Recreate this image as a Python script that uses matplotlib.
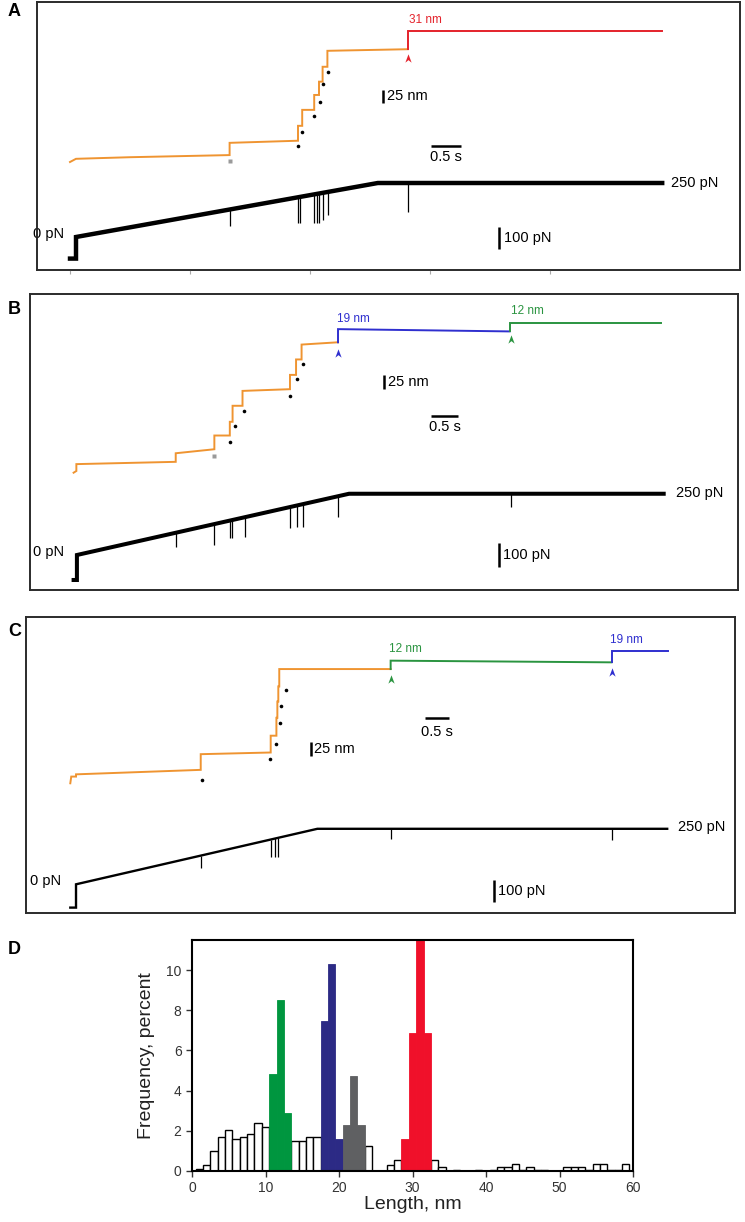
import numpy as np
import matplotlib
matplotlib.use("Agg")
import matplotlib.pyplot as plt
from matplotlib.path import Path

plt.rcParams['font.family'] = ['Liberation Sans', 'DejaVu Sans']

W, H = 745, 1222
ORANGE = '#ef9431'
RED = '#e4222b'
BLUE = '#2f2fcf'
GREEN = '#2a9440'

# ---------------- panel A (time s, extension nm, force pN) ----------------
a_orange_t = [0.00, 0.10, 1.00, 2.66, 2.66, 3.80, 3.80, 3.87, 3.87, 4.07, 4.07, 4.15, 4.15, 4.21, 4.21, 4.29, 4.29, 5.63]
a_orange_nm = [0, 6, 9, 13, 36, 40, 68, 68, 98, 98, 126, 126, 151, 151, 179, 179, 209, 212]
a_red_t = [5.63, 5.63, 9.87]
a_red_nm = [212, 247, 247]
a_dots_t = [3.80, 3.87, 4.07, 4.16, 4.21, 4.30]
a_dots_nm = [30, 56, 86, 113, 146, 170]
a_gray_dot = (2.66, 1)
a_force_t = [0, 0.1, 0.1, 5.13, 9.87]
a_force_pn = [-100, -100, 0, 250, 250]
a_spike_t = [2.66, 3.80, 3.84, 4.06, 4.11, 4.15, 4.22, 4.30, 5.63]
a_spike_min = [52, 66, 66, 66, 66, 66, 80, 104, 118]

# ---------------- panel B ----------------
b_orange_t = [0.00, 0.05, 0.05, 1.85, 1.85, 2.55, 2.55, 2.83, 2.83, 2.88, 2.88, 3.06, 3.06, 3.92, 3.92, 4.03, 4.03, 4.13, 4.13, 4.79]
b_orange_nm = [0, 3, 15, 19, 34, 41, 65, 65, 89, 89, 117, 117, 143, 146, 171, 171, 198, 198, 224, 228]
b_blue_t = [4.79, 4.79, 7.90]
b_blue_nm = [228, 251, 247]
b_green_t = [7.90, 7.90, 10.65]
b_green_nm = [247, 261, 261]
b_dots_t = [2.83, 2.92, 3.09, 3.92, 4.05, 4.15]
b_dots_nm = [54, 82, 108, 134, 163, 190]
b_gray_dot = (2.54, 30)
b_force_t = [0, 0.06, 0.06, 4.99, 10.69]
b_force_pn = [-102, -102, 0, 250, 250]
b_spike_t = [1.85, 2.55, 2.83, 2.87, 3.10, 3.92, 4.05, 4.15, 4.79, 7.92]
b_spike_min = [34, 41, 68, 68, 75, 109, 115, 115, 156, 197]

# ---------------- panel C ----------------
c_orange_t = [0.00, 0.02, 0.12, 0.12, 2.74, 2.74, 4.21, 4.21, 4.33, 4.33, 4.35, 4.35, 4.37, 4.37, 4.39, 4.39, 6.73]
c_orange_nm = [0, 12, 12, 16, 24, 52, 55, 85, 85, 117, 117, 146, 146, 173, 173, 204, 204]
c_green_t = [6.73, 6.73, 11.37]
c_green_nm = [204, 219, 216]
c_blue_t = [11.37, 11.37, 12.56]
c_blue_nm = [216, 237, 237]
c_dots_t = [2.76, 4.20, 4.32, 4.40, 4.43, 4.53]
c_dots_nm = [6, 43, 71, 107, 138, 167]
c_force_t = [0, 0.12, 0.12, 5.19, 12.54]
c_force_pn = [-105, -105, 0, 250, 250]
c_spike_t = [2.74, 4.21, 4.31, 4.36, 6.73, 11.37]
c_spike_min = [72, 122, 122, 122, 204, 200]

# ---------------- panel D histogram (1 nm bins, centres 0..59) ----------------
length_nm = np.arange(60)
freq_pct = [0, 0.10, 0.32, 1.02, 1.70, 2.05, 1.57, 1.70, 1.82, 2.40,
            2.17, 4.83, 8.50, 2.88, 1.47, 1.47, 1.70, 1.70, 7.45, 10.33,
            1.60, 2.30, 4.72, 2.30, 1.25, 0, 0, 0.32, 0.57, 1.60,
            6.88, 12.50, 6.88, 0.57, 0.18, 0, 0.07, 0, 0, 0.07,
            0, 0.07, 0.18, 0.18, 0.33, 0.07, 0.18, 0.07, 0.07, 0,
            0, 0.18, 0.18, 0.18, 0.07, 0.33, 0.33, 0.07, 0.07, 0.33]
green_bins = [11, 12, 13]
blue_bins = [18, 19, 20]
gray_bins = [21, 22, 23]
red_bins = [29, 30, 31, 32]

fig = plt.figure(figsize=(W / 100, H / 100), dpi=100)

ARROW = Path([(0, 1), (0.75, -1), (0, -0.4), (-0.75, -1), (0, 1)],
             [Path.MOVETO, Path.LINETO, Path.LINETO, Path.LINETO, Path.CLOSEPOLY])


def trace_panel(g, segments, dots_t, dots_nm, gray_dot, arrows, step_labels,
                force_t, force_pn, spike_t, spike_min):
    l, t, r, b = g["box"]
    ax = fig.add_axes([l / W, 1 - b / H, (r - l) / W, (b - t) / H])
    ax.set_xlim((l - g["x0"]) / g["pps"], (r - g["x0"]) / g["pps"])
    ax.set_ylim((g["ext0"] - b) / g["ppn"], (g["ext0"] - t) / g["ppn"])
    axf = ax.twinx()
    axf.set_ylim((g["f0"] - b) / g["ppf"], (g["f0"] - t) / g["ppf"])

    for tt, nm, c in segments:
        ax.plot(tt, nm, color=c, lw=1.4, solid_joinstyle='miter')
    ax.plot(dots_t, dots_nm, 'o', color='k', ms=2.6, mec='none')
    if gray_dot:
        ax.plot(*gray_dot, 's', color='#9a9a9a', ms=2.2, mec='none')
    for tt, nm, c in arrows:
        ax.plot(tt, nm, marker=ARROW, color=c, ms=6, mec='none')
    for s, tt, nm, c in step_labels:
        ax.text(tt, nm, s, color=c, fontsize=8.5, va='center', ha='left')

    # scale bars
    bt, lo, hi = g["nm_bar"]
    ax.plot([bt, bt], [lo, hi], color='k', lw=1.8, solid_capstyle='butt')
    ax.text(bt + 0.07, (lo + hi) / 2, "25 nm", fontsize=10.5, va='center', ha='left')
    t1, t2, y = g["s_bar"]
    ax.plot([t1, t2], [y, y], color='k', lw=1.8, solid_capstyle='butt')
    ax.text((t1 + t2) / 2, g["s_text"], "0.5 s", fontsize=10.5, va='center', ha='center')

    axf.plot(force_t, force_pn, color='k', lw=g["flw"], solid_joinstyle='miter')
    top = np.interp(spike_t, force_t[2:], force_pn[2:])
    axf.vlines(spike_t, spike_min, top, color='k', lw=0.9)
    bt, lo, hi = g["pn_bar"]
    axf.plot([bt, bt], [lo, hi], color='k', lw=1.8, solid_capstyle='butt')
    axf.text(bt + 0.08, (lo + hi) / 2, "100 pN", fontsize=10.5, va='center', ha='left')
    axf.text(g["f250"][0], g["f250"][1], "250 pN", fontsize=10.5, va='center', ha='left')
    axf.text(g["f0txt"][0], g["f0txt"][1], "0 pN", fontsize=10.5, va='center', ha='right')

    ax.tick_params(left=False, labelleft=False, bottom=False, labelbottom=False)
    axf.tick_params(right=False, labelright=False)
    for ax_ in (ax, axf):
        for sp in ax_.spines.values():
            sp.set_color('#2b2b2b')
            sp.set_linewidth(1.2)
    if g.get("ticks"):
        ax.set_xticks(g["ticks"])
        ax.tick_params(bottom=True, length=3, width=0.8, color='#aaaaaa', direction='out')
    ax.set_zorder(axf.get_zorder() + 1)
    ax.patch.set_visible(False)
    return ax


geom_a = dict(box=(37, 2, 740, 270), x0=70, pps=60, ext0=162, ppn=0.532, f0=237, ppf=0.216,
              flw=3.2, nm_bar=(5.22, 111, 136), s_bar=(6.02, 6.52, 30.6), s_text=9,
              pn_bar=(7.15, -55, 45), f250=(10.02, 250), f0txt=(-0.1, 13), ticks=[0, 2, 4, 6, 8])
geom_b = dict(box=(30, 294, 738, 590), x0=73.6, pps=55.2, ext0=472.7, ppn=0.572, f0=555, ppf=0.245,
              flw=2.9, nm_bar=(5.62, 146, 171), s_bar=(6.47, 6.97, 99), s_text=80,
              pn_bar=(7.70, -48, 48), f250=(10.91, 252), f0txt=(-0.17, 14))
geom_c = dict(box=(26, 617, 735, 913), x0=70.3, pps=47.6, ext0=783.3, ppn=0.56, f0=884.3, ppf=0.222,
              flw=1.7, nm_bar=(5.06, 49, 74), s_bar=(7.45, 7.95, 116), s_text=92,
              pn_bar=(8.90, -78, 19), f250=(12.77, 259), f0txt=(-0.2, 16))

trace_panel(geom_a,
            [(a_orange_t, a_orange_nm, ORANGE), (a_red_t, a_red_nm, RED)],
            a_dots_t, a_dots_nm, a_gray_dot,
            [(5.63, 195, RED)], [("31 nm", 5.65, 267, RED)],
            a_force_t, a_force_pn, a_spike_t, a_spike_min)
trace_panel(geom_b,
            [(b_orange_t, b_orange_nm, ORANGE), (b_blue_t, b_blue_nm, BLUE),
             (b_green_t, b_green_nm, GREEN)],
            b_dots_t, b_dots_nm, b_gray_dot,
            [(4.79, 210, BLUE), (7.92, 233, GREEN)],
            [("19 nm", 4.77, 268, BLUE), ("12 nm", 7.93, 283, GREEN)],
            b_force_t, b_force_pn, b_spike_t, b_spike_min)
trace_panel(geom_c,
            [(c_orange_t, c_orange_nm, ORANGE), (c_green_t, c_green_nm, GREEN),
             (c_blue_t, c_blue_nm, BLUE)],
            c_dots_t, c_dots_nm, None,
            [(6.73, 186, GREEN), (11.37, 198, BLUE)],
            [("12 nm", 6.69, 239, GREEN), ("19 nm", 11.33, 256, BLUE)],
            c_force_t, c_force_pn, c_spike_t, c_spike_min)

# ---------------- histogram ----------------
l, t, r, b = 192, 940, 633, 1171
axd = fig.add_axes([l / W, 1 - b / H, (r - l) / W, (b - t) / H])
fill = {}
for i in green_bins:
    fill[i] = '#00963f'
for i in blue_bins:
    fill[i] = '#2c2a85'
for i in gray_bins:
    fill[i] = '#5f6062'
for i in red_bins:
    fill[i] = '#f0102a'
plain = [i for i in length_nm if i not in fill and freq_pct[i] > 0]
axd.bar(plain, [freq_pct[i] for i in plain], width=1, facecolor='white',
        edgecolor='black', lw=1.0)
cols = list(fill.keys())
axd.bar(cols, [freq_pct[i] for i in cols], width=1,
        color=[fill[i] for i in cols], edgecolor=[fill[i] for i in cols], lw=0.6)
axd.set_xlim(0, 60)
axd.set_ylim(0, 11.5)
axd.set_xticks(range(0, 61, 10))
axd.set_yticks(range(0, 11, 2))
axd.tick_params(labelsize=10, colors='#333333', length=4, width=1, direction='out')
for sp in axd.spines.values():
    sp.set_linewidth(1.5)
axd.set_xlabel("Length, nm", fontsize=14, color='#222222')
axd.set_ylabel("Frequency, percent", fontsize=14, color='#222222')
axd.yaxis.set_label_coords(-0.085, 0.5)
axd.xaxis.set_label_coords(0.5, -0.11)

for s, x, y in [("A", 8, 12), ("B", 8, 309), ("C", 8, 631), ("D", 8, 949)]:
    fig.text(x / W, 1 - y / H, s, fontsize=13, fontweight='bold', va='center', ha='left')

fig.savefig("out.png", dpi=100)
